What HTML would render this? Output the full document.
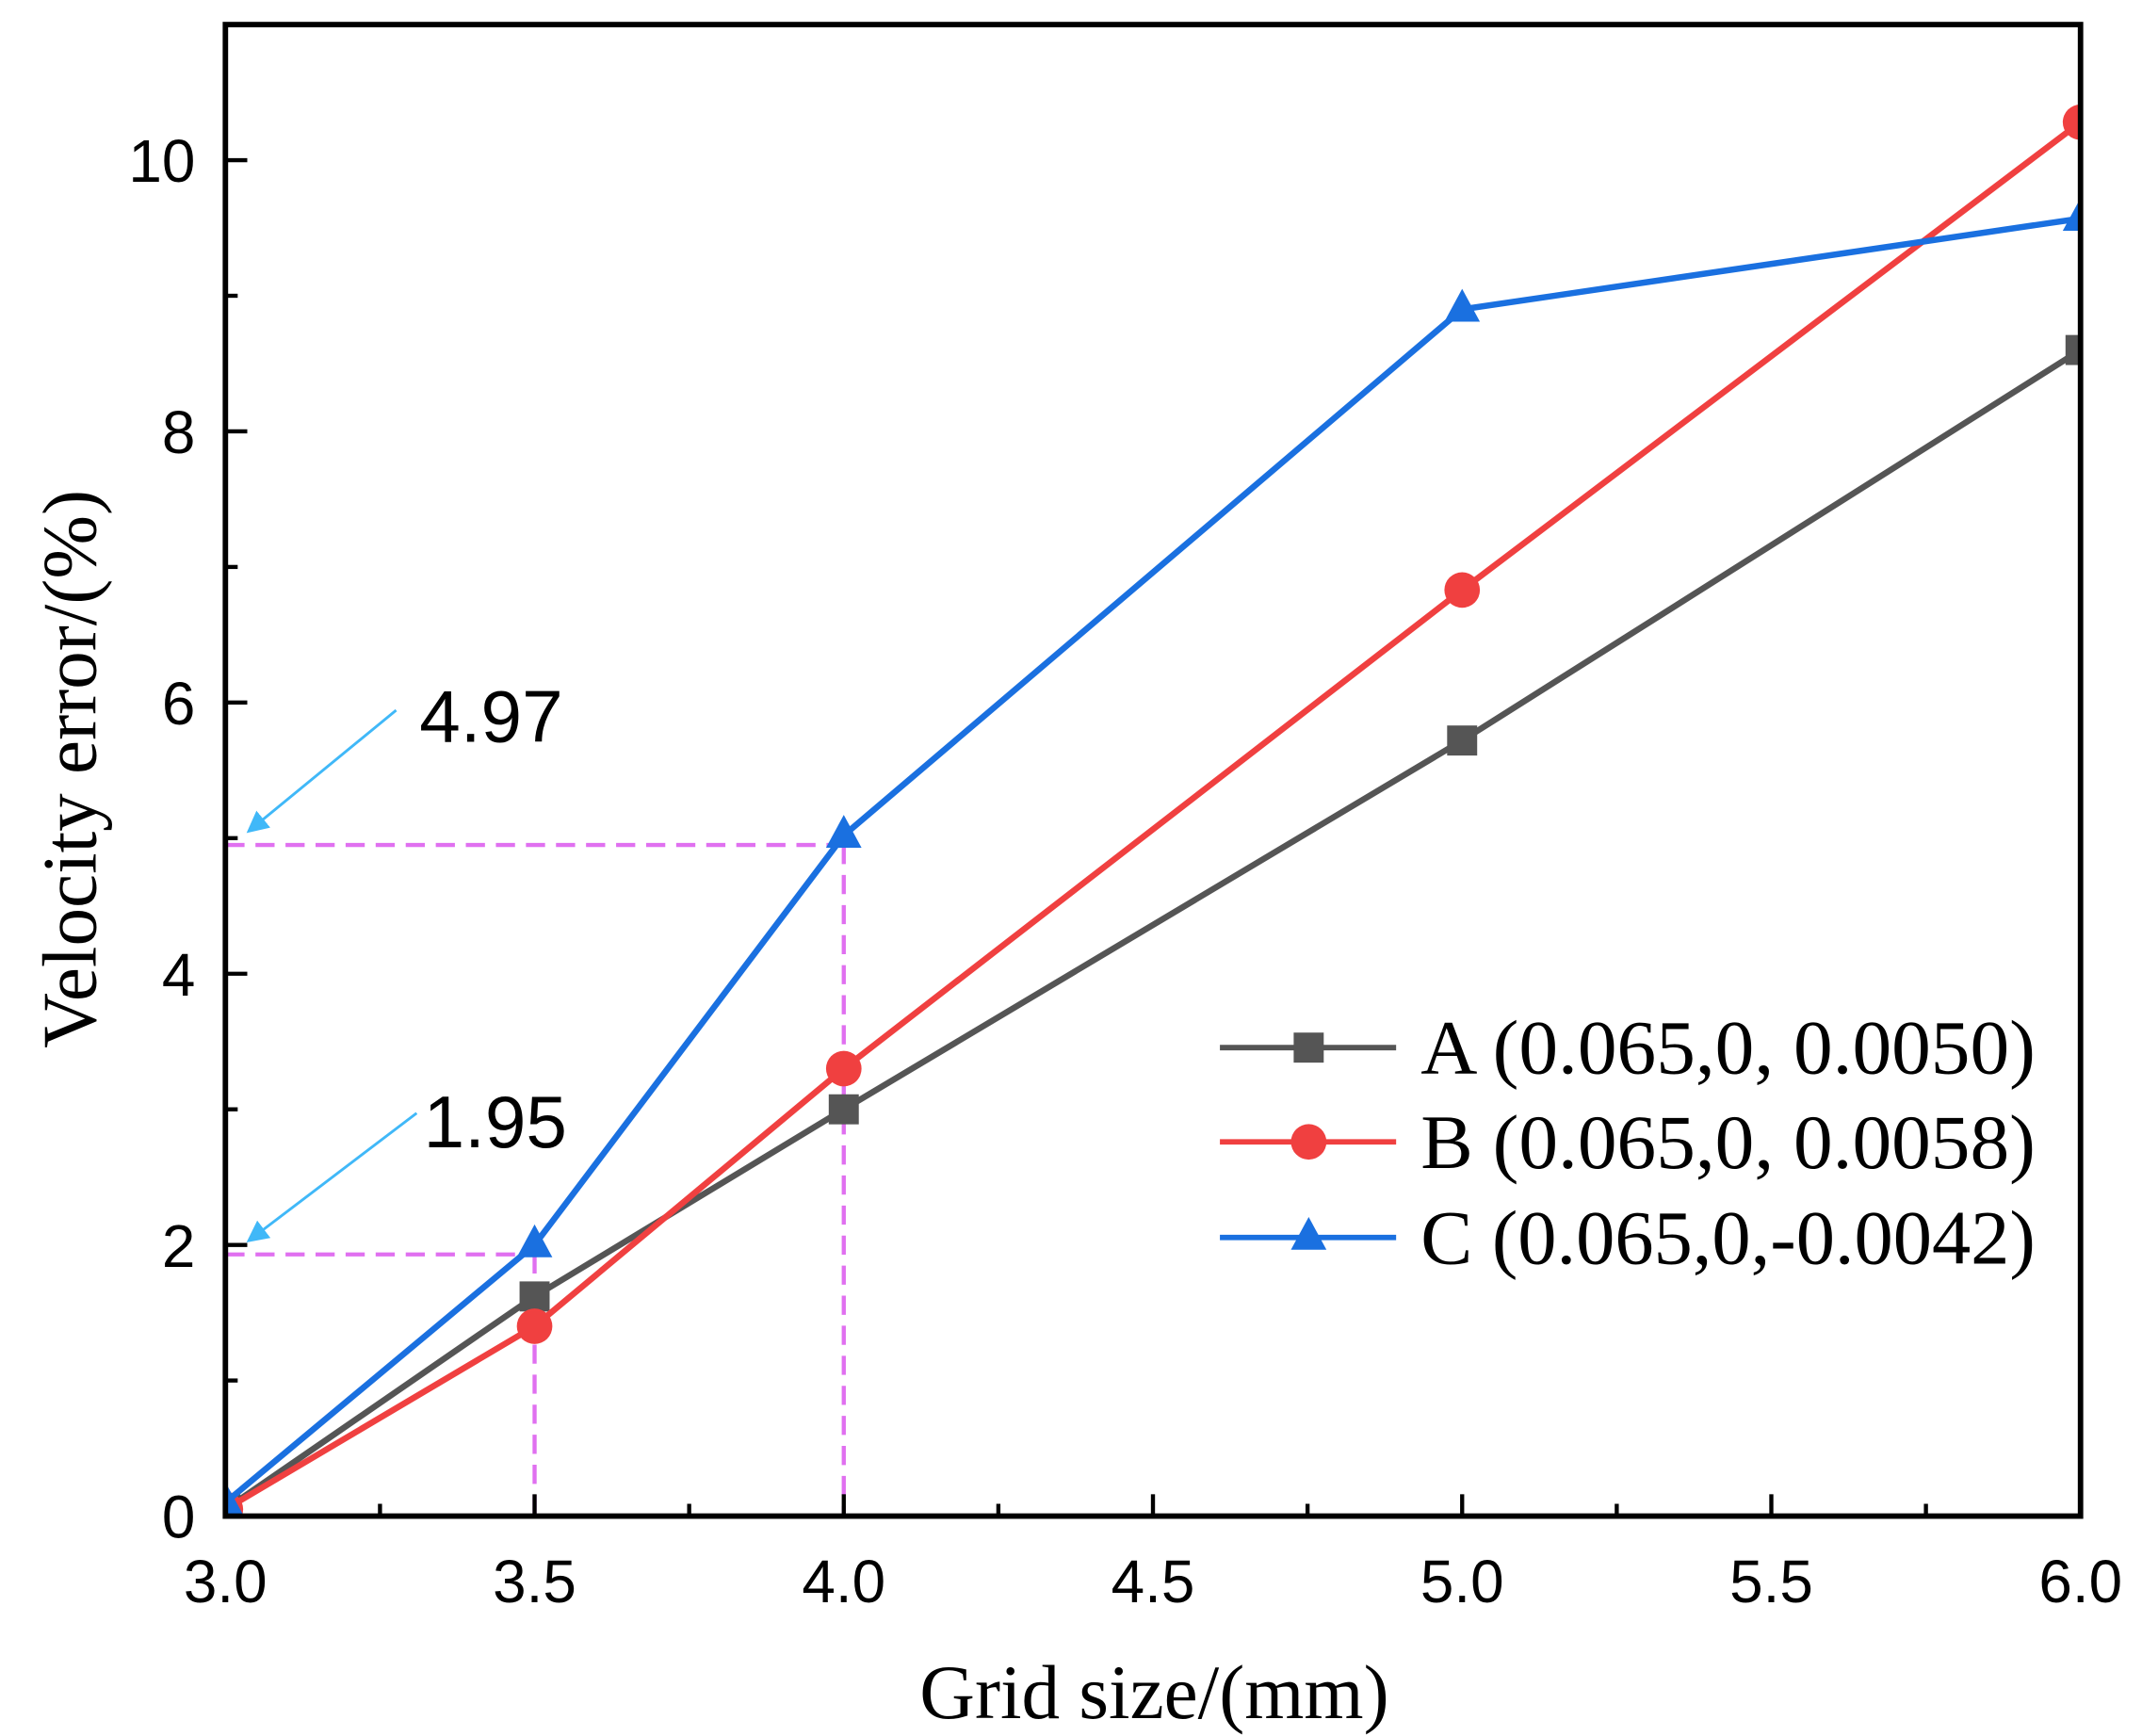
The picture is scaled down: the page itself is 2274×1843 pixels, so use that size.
<!DOCTYPE html>
<html><head><meta charset="utf-8"><style>
html,body{margin:0;padding:0;background:#fff;}
svg{display:block;}
</style></head><body>
<svg id="chart" width="2274" height="1843" viewBox="0 0 1568 1271" preserveAspectRatio="none" xmlns="http://www.w3.org/2000/svg">
<g id="plot"></g>
</svg>
<script>
const categories = [3.0, 3.5, 4.0, 5.0, 6.0];
const seriesA = [0.05, 1.62, 3.0, 5.72, 8.6];
const seriesB = [0.05, 1.4, 3.3, 6.83, 10.28];
const seriesC = [0.1, 2.0, 5.02, 8.9, 9.57];
const seriesNames = ["A (0.065,0, 0.0050)", "B (0.065,0, 0.0058)", "C (0.065,0,-0.0042)"];
const xTicks = [3.0, 3.5, 4.0, 4.5, 5.0, 5.5, 6.0];
const xTickLabels = ["3.0", "3.5", "4.0", "4.5", "5.0", "5.5", "6.0"];
const yTicks = [0, 2, 4, 6, 8, 10];
const yTickLabels = ["0", "2", "4", "6", "8", "10"];
const annotValues = [4.97, 1.95];
const annotX = [4.0, 3.5];

const NS = "http://www.w3.org/2000/svg";
const g = document.getElementById('plot');
const X0 = 165, X1 = 1523, Y0 = 1110, YT = 18;
const xScale = v => X0 + (v - 3) / 3 * (X1 - X0);
const yScale = v => Y0 - v / 11 * (Y0 - YT);
function el(tag, attrs, parent) {
  const e = document.createElementNS(NS, tag);
  for (const k in attrs) e.setAttribute(k, attrs[k]);
  (parent || g).appendChild(e);
  return e;
}
const clip = el('clipPath', {id: 'pc'});
el('rect', {x: X0, y: YT, width: X1 - X0, height: Y0 - YT}, clip);

annotValues.forEach((v, i) => {
  const h = el('line', {x1: X0, y1: yScale(v) + 2, x2: xScale(annotX[i]), y2: yScale(v) + 2, stroke: '#e070f0', 'stroke-width': 3, 'stroke-dasharray': '14,8'});
  
  
  const vl = el('line', {x1: xScale(annotX[i]), y1: yScale(v) + 2, x2: xScale(annotX[i]), y2: Y0, stroke: '#e070f0', 'stroke-width': 3, 'stroke-dasharray': '14,8'});
  
  
});

const colors = ['#555555', '#f04040', '#1a70e0'];
const allSeries = [seriesA, seriesB, seriesC];
function marker(k, x, y, parent) {
  let m;
  if (k === 0) m = el('rect', {x: x - 11, y: y - 11, width: 22, height: 22, fill: colors[0]}, parent);
  else if (k === 1) m = el('circle', {cx: x, cy: y, r: 13, fill: colors[1]}, parent);
  else m = el('polygon', {points: `${x},${y - 15} ${x + 13},${y + 9} ${x - 13},${y + 9}`, fill: colors[2]}, parent);
  return m;
}
allSeries.forEach((s, k) => {
  const sg = el('g', {'clip-path': 'url(#pc)'});
  
  
  const pts = s.map((v, i) => xScale(categories[i]) + ',' + yScale(v)).join(' ');
  const pl = el('polyline', {points: pts, fill: 'none', stroke: colors[k], 'stroke-width': 4.5}, sg);
  
  
  s.forEach((v, i) => {
    const m = marker(k, xScale(categories[i]), yScale(v), sg);
    
    
  });
});

const fr = el('rect', {x: X0, y: YT, width: X1 - X0, height: Y0 - YT, fill: 'none', stroke: '#000', 'stroke-width': 4});



for (let v = 3; v <= 6.001; v += 0.25) {
  const major = Math.abs(v * 2 - Math.round(v * 2)) < 1e-6;
  const t = el('line', {x1: xScale(v), y1: Y0, x2: xScale(v), y2: Y0 - (major ? 16 : 9), stroke: '#000', 'stroke-width': 3});
  
  
}
xTicks.forEach((v, i) => {
  const t = el('text', {x: xScale(v), y: 1173, 'text-anchor': 'middle', 'font-family': 'Liberation Sans, sans-serif', 'font-size': 44});
  t.textContent = xTickLabels[i];
  
  
});
for (let v = 0; v <= 11; v += 1) {
  const major = v % 2 === 0;
  const t = el('line', {x1: X0, y1: yScale(v), x2: X0 + (major ? 16 : 9), y2: yScale(v), stroke: '#000', 'stroke-width': 3});
  
  
}
yTicks.forEach((v, i) => {
  const t = el('text', {x: 143, y: yScale(v) + 16, 'text-anchor': 'end', 'font-family': 'Liberation Sans, sans-serif', 'font-size': 44});
  t.textContent = yTickLabels[i];
  
  
});

const xt = el('text', {x: 845, y: 1258, 'text-anchor': 'middle', 'font-family': 'Liberation Serif, serif', 'font-size': 56});
xt.textContent = 'Grid size/(mm)';


const yt = el('text', {x: 0, y: 0, 'text-anchor': 'middle', 'font-family': 'Liberation Serif, serif', 'font-size': 56, transform: 'translate(70,563) rotate(-90)'});
yt.textContent = 'Velocity error/(%)';



const defs = el('defs', {});
const mk = el('marker', {id: 'ah', markerWidth: 8, markerHeight: 8, refX: 7, refY: 4, orient: 'auto', markerUnits: 'strokeWidth'}, defs);
el('path', {d: 'M0,0 L8,4 L0,8 Z', fill: '#40b8f8'}, mk);
const arrowStarts = [[290, 520], [305, 815]];
const labelPos = [[307, 543], [310, 840]];
annotValues.forEach((v, i) => {
  const a = el('line', {x1: arrowStarts[i][0], y1: arrowStarts[i][1], x2: 182, y2: yScale(v) - 8, stroke: '#40b8f8', 'stroke-width': 2, 'marker-end': 'url(#ah)'});
  
  
  const t = el('text', {x: labelPos[i][0], y: labelPos[i][1], 'font-family': 'Liberation Sans, sans-serif', 'font-size': 54});
  t.textContent = v.toFixed(2);
  
  
});

const lg = el('g', {});


const legY = [767, 836, 906];
seriesNames.forEach((n, k) => {
  const l = el('line', {x1: 893, y1: legY[k], x2: 1022, y2: legY[k], stroke: colors[k], 'stroke-width': 4}, lg);
  
  
  const m = marker(k, 958, legY[k], lg);
  
  
  const t = el('text', {x: 1040, y: legY[k] + 19, 'font-family': 'Liberation Serif, serif', 'font-size': 56, textLength: 450, lengthAdjust: 'spacingAndGlyphs'}, lg);
  t.textContent = n;
  
  
});
</script>
</body></html>
